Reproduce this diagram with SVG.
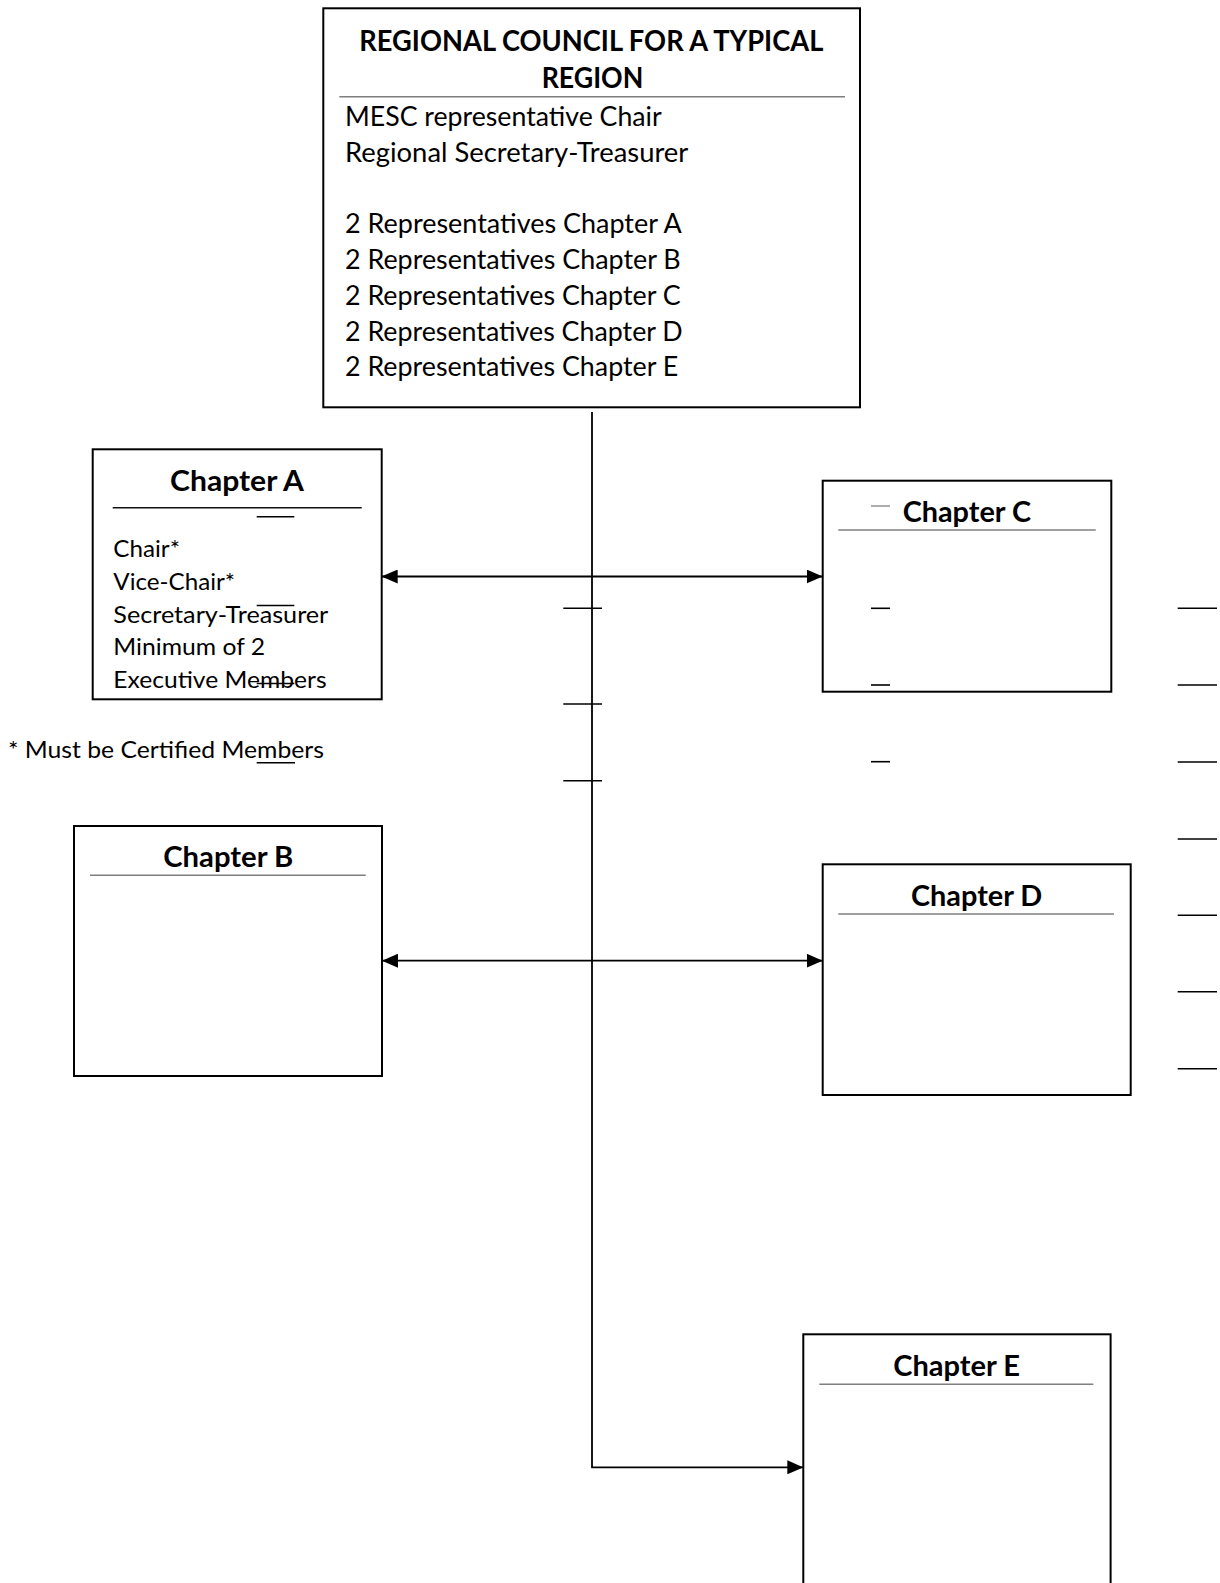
<svg xmlns="http://www.w3.org/2000/svg" width="1220" height="1583" viewBox="0 0 1220 1583">
<style>
  .box { fill: #fff; stroke: #000; stroke-width: 2; }
  .sep { stroke: #7f7f7f; stroke-width: 1.6; fill: none; }
  .sepdark { stroke: #111; stroke-width: 1.6; fill: none; }
  .conn { stroke: #000; stroke-width: 1.8; fill: none; }
  .mark { stroke: #000; stroke-width: 1.6; fill: none; }
  .markg { stroke: #8a8a8a; stroke-width: 1.4; fill: none; }
  .title { font-family: "Lato", "Carlito", "Liberation Sans", sans-serif; font-weight: bold; font-size: 28.8px; fill: #000; }
  .body { font-family: "Lato", "Carlito", "Liberation Sans", sans-serif; font-size: 24px; fill: #000; }
  .bodyL { font-family: "Lato", "Carlito", "Liberation Sans", sans-serif; font-size: 26.4px; fill: #000; }
</style>
<defs>
  <marker id="arrow" viewBox="0 0 16 14" refX="16" refY="7" markerWidth="16" markerHeight="14" markerUnits="userSpaceOnUse" orient="auto-start-reverse">
    <path d="M0,0 L16,7 L0,14 z" fill="#000"/>
  </marker>
</defs>

<g id="regional-council">
  <rect class="box" x="323.3" y="8.3" width="536.7" height="399"/>
  <text class="title" x="359.3" y="51" textLength="464" lengthAdjust="spacingAndGlyphs">REGIONAL COUNCIL FOR A TYPICAL</text>
  <text class="title" x="541.7" y="88.3" textLength="101.6" lengthAdjust="spacingAndGlyphs">REGION</text>
  <line class="sep" x1="339.3" y1="96.7" x2="845" y2="96.7"/>
  <text class="bodyL" x="345" y="125.7" textLength="316.7" lengthAdjust="spacingAndGlyphs">MESC representative Chair</text>
  <text class="bodyL" x="345" y="162.3" textLength="343.3" lengthAdjust="spacingAndGlyphs">Regional Secretary-Treasurer</text>
  <text class="bodyL" x="345" y="233.3" textLength="336.7" lengthAdjust="spacingAndGlyphs">2 Representatives Chapter A</text>
  <text class="bodyL" x="345" y="269.3" textLength="335.7" lengthAdjust="spacingAndGlyphs">2 Representatives Chapter B</text>
  <text class="bodyL" x="345" y="305" textLength="335.7" lengthAdjust="spacingAndGlyphs">2 Representatives Chapter C</text>
  <text class="bodyL" x="345" y="340.7" textLength="337.7" lengthAdjust="spacingAndGlyphs">2 Representatives Chapter D</text>
  <text class="bodyL" x="345" y="376" textLength="333.3" lengthAdjust="spacingAndGlyphs">2 Representatives Chapter E</text>
</g>

<g id="chapter-a">
  <rect class="box" x="92.7" y="449.3" width="289" height="250"/>
  <text class="title" x="170" y="490.7" textLength="134" lengthAdjust="spacingAndGlyphs">Chapter A</text>
  <line class="sepdark" x1="112.7" y1="507.7" x2="361.7" y2="507.7"/>
  <text class="body" x="113.3" y="557.3" textLength="66.7" lengthAdjust="spacingAndGlyphs">Chair*</text>
  <text class="body" x="113.3" y="590" textLength="121.7" lengthAdjust="spacingAndGlyphs">Vice-Chair*</text>
  <text class="body" x="113.3" y="623.3" textLength="215" lengthAdjust="spacingAndGlyphs">Secretary-Treasurer</text>
  <text class="body" x="113.3" y="655" textLength="151.7" lengthAdjust="spacingAndGlyphs">Minimum of 2</text>
  <text class="body" x="113.3" y="688.3" textLength="213.3" lengthAdjust="spacingAndGlyphs">Executive Members</text>
</g>

<g id="footnote">
  <text class="body" x="8" y="757.7" textLength="316" lengthAdjust="spacingAndGlyphs">* Must be Certified Members</text>
</g>

<g id="chapter-b">
  <rect class="box" x="74" y="826" width="308" height="250"/>
  <text class="title" x="163.3" y="866.7" textLength="130" lengthAdjust="spacingAndGlyphs">Chapter B</text>
  <line class="sep" x1="90" y1="875.3" x2="365.7" y2="875.3"/>
</g>

<g id="chapter-c">
  <rect class="box" x="822.7" y="480.7" width="288.6" height="211"/>
  <text class="title" x="902.7" y="522.3" textLength="128.3" lengthAdjust="spacingAndGlyphs">Chapter C</text>
  <line class="sep" x1="838.3" y1="530" x2="1095.7" y2="530"/>
</g>

<g id="chapter-d">
  <rect class="box" x="822.7" y="864.3" width="308" height="230.7"/>
  <text class="title" x="911" y="906" textLength="131.3" lengthAdjust="spacingAndGlyphs">Chapter D</text>
  <line class="sep" x1="838.3" y1="914" x2="1114" y2="914"/>
</g>

<g id="chapter-e">
  <rect class="box" x="803.3" y="1334.3" width="307.3" height="270"/>
  <text class="title" x="893.3" y="1376" textLength="126.7" lengthAdjust="spacingAndGlyphs">Chapter E</text>
  <line class="sep" x1="819.3" y1="1384.3" x2="1093.4" y2="1384.3"/>
</g>

<g id="connectors">
  <path class="conn" d="M592,412 V1467.3 H803.3" marker-end="url(#arrow)"/>
  <path class="conn" d="M381.7,576.5 H822.7" marker-start="url(#arrow)" marker-end="url(#arrow)"/>
  <path class="conn" d="M382,960.7 H822.7" marker-start="url(#arrow)" marker-end="url(#arrow)"/>
</g>

<g id="stray-marks">
  <line class="mark" x1="256.7" y1="516.7" x2="294.3" y2="516.7"/>
  <line class="mark" x1="256.7" y1="605.5" x2="294.3" y2="605.5"/>
  <line class="mark" x1="256.7" y1="683.5" x2="294.3" y2="683.5"/>
  <line class="mark" x1="256.7" y1="762.7" x2="295" y2="762.7"/>
  <line class="mark" x1="563.3" y1="608.3" x2="602" y2="608.3"/>
  <line class="mark" x1="563.3" y1="704" x2="602" y2="704"/>
  <line class="mark" x1="563.3" y1="780.7" x2="602" y2="780.7"/>
  <line class="markg" x1="871" y1="506" x2="890" y2="506"/>
  <line class="mark" x1="871" y1="608.3" x2="890" y2="608.3"/>
  <line class="mark" x1="871" y1="685" x2="890" y2="685"/>
  <line class="mark" x1="871" y1="761.7" x2="890" y2="761.7"/>
  <line class="mark" x1="1177.7" y1="608.3" x2="1217" y2="608.3"/>
  <line class="mark" x1="1177.7" y1="685" x2="1217" y2="685"/>
  <line class="mark" x1="1177.7" y1="762" x2="1217" y2="762"/>
  <line class="mark" x1="1177.7" y1="839" x2="1217" y2="839"/>
  <line class="mark" x1="1177.7" y1="915.3" x2="1217" y2="915.3"/>
  <line class="mark" x1="1177.7" y1="991.7" x2="1217" y2="991.7"/>
  <line class="mark" x1="1177.7" y1="1068.7" x2="1217" y2="1068.7"/>
</g>
</svg>
